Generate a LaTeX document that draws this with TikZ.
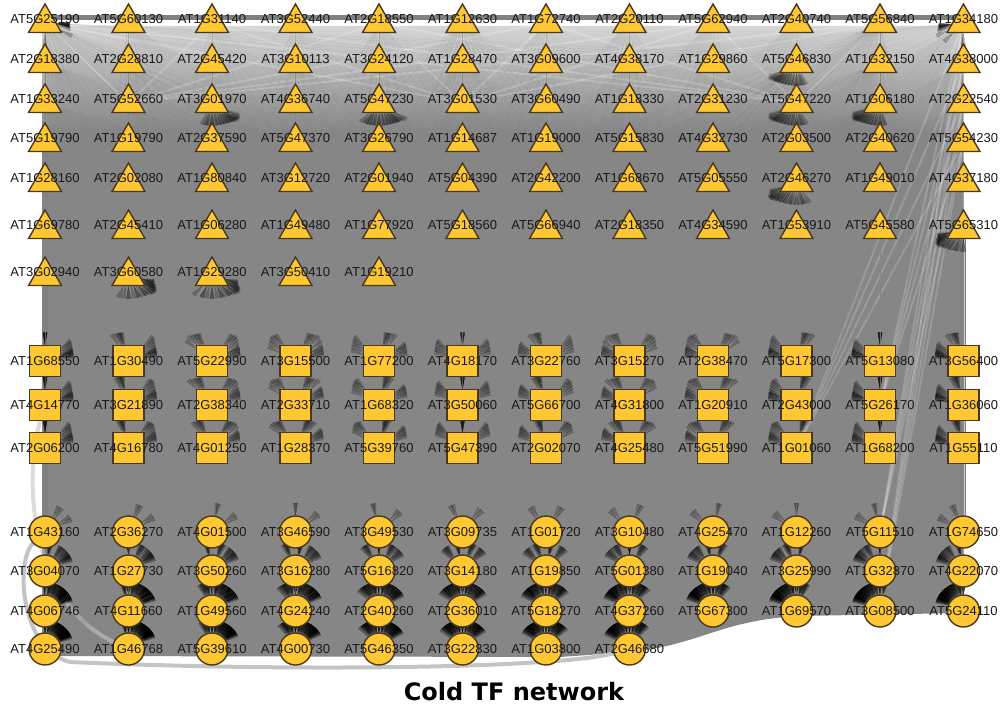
\documentclass[tikz,border=0pt]{standalone}
\usepackage{fontspec}
\setmainfont{Liberation Sans}
\newfontfamily\titlefont{DejaVu Sans}
\usepackage{tikz}
\usetikzlibrary{arrows.meta, shapes.geometric, fadings}
\pgfdeclarelayer{edges}
\pgfsetlayers{edges,main}
\definecolor{nodefill}{RGB}{255,200,48}
\definecolor{nodeline}{RGB}{72,56,30}
\definecolor{edgegray}{RGB}{134,134,134}
\definecolor{rimgray}{RGB}{128,128,128}
\definecolor{palegray}{RGB}{196,196,196}
\tikzfading[name=topfade, top color=transparent!30, bottom color=transparent!100]

\begin{document}
\begin{tikzpicture}[
    x=1pt, y=-1pt,
    gene/.style={
      draw=nodeline, fill=nodefill, line width=1.4pt,
      inner sep=0pt, outer sep=0pt
    },
    tfnode/.style={gene, regular polygon, regular polygon sides=3, minimum size=38pt},
    midnode/.style={gene, rectangle, minimum size=31pt},
    tgnode/.style={gene, circle, minimum size=32pt},
    genelab/.style={inner sep=0pt, font=\fontsize{13}{15}\selectfont, text=black!90},
    regedge/.style={
      draw=edgegray, opacity=0.22, line width=0.3pt,
      -{Triangle[length=13pt, width=4.5pt, color=black]}
    },
    rim/.style={draw=rimgray, line width=5pt},
    pale/.style={draw=palegray, line width=4pt},
    streak/.style={draw=white, opacity=0.2, line width=2pt},
  ]
    \useasboundingbox (0,0) rectangle (1004,709);

    % transcription factors
    \foreach \r/\yy/\names in {
        1/23/{AT5G25190,AT5G60130,AT1G31140,AT3G52440,AT2G18550,AT1G12630,AT1G72740,AT2G20110,AT5G62940,AT2G40740,AT5G56840,AT1G34180},
        2/63/{AT2G18380,AT2G28810,AT2G45420,AT3G10113,AT3G24120,AT1G28470,AT3G09600,AT4G38170,AT1G29860,AT5G46830,AT1G32150,AT4G38000},
        3/103/{AT1G33240,AT5G52660,AT3G01970,AT4G36740,AT5G47230,AT3G01530,AT3G60490,AT1G18330,AT2G31230,AT5G47220,AT1G06180,AT2G22540},
        4/142/{AT5G19790,AT1G19790,AT2G37590,AT5G47370,AT3G26790,AT1G14687,AT1G19000,AT5G15830,AT4G32730,AT2G03500,AT2G40620,AT5G54230},
        5/182/{AT1G28160,AT2G02080,AT1G80840,AT3G12720,AT2G01940,AT5G04390,AT2G42200,AT1G68670,AT5G05550,AT2G46270,AT1G49010,AT4G37180},
        6/229/{AT1G69780,AT2G45410,AT1G06280,AT1G49480,AT1G77920,AT5G18560,AT5G66940,AT2G18350,AT4G34590,AT1G53910,AT5G45580,AT5G65310},
        7/276/{AT3G02940,AT3G60580,AT1G29280,AT3G50410,AT1G19210}}{
      \foreach \lab [count=\c from 0] in \names
        \node[tfnode, label={[genelab, yshift=4pt]center:\lab}] (tf-\r-\c) at ({45+83.5*\c},\yy) {};
    }

    % middle genes
    \foreach \r/\yy/\names in {
        1/361/{AT1G68550,AT1G30490,AT5G22990,AT3G15500,AT1G77200,AT4G18170,AT3G22760,AT3G15270,AT2G38470,AT5G17300,AT5G13080,AT3G56400},
        2/405/{AT4G14770,AT3G21890,AT2G38340,AT2G33710,AT1G68320,AT3G50060,AT5G66700,AT4G31800,AT1G20910,AT2G43000,AT5G26170,AT1G36060},
        3/448/{AT2G06200,AT4G16780,AT4G01250,AT1G28370,AT5G39760,AT5G47390,AT2G02070,AT4G25480,AT5G51990,AT1G01060,AT1G68200,AT1G55110}}{
      \foreach \lab [count=\c from 0] in \names
        \node[midnode, label={[genelab]center:\lab}] (mid-\r-\c) at ({45+83.5*\c},\yy) {};
    }

    % target genes
    \foreach \r/\yy/\names in {
        1/532/{AT1G43160,AT2G36270,AT4G01500,AT3G46590,AT3G49530,AT3G09735,AT1G01720,AT3G10480,AT4G25470,AT1G12260,AT5G11510,AT1G74650},
        2/571/{AT3G04070,AT1G27730,AT3G50260,AT3G16280,AT5G16820,AT3G14180,AT1G19850,AT5G01380,AT1G19040,AT3G25990,AT1G32870,AT4G22070},
        3/611/{AT4G06746,AT4G11660,AT1G49560,AT4G24240,AT2G40260,AT2G36010,AT5G18270,AT4G37260,AT5G67300,AT1G69570,AT3G08500,AT5G24110},
        4/649/{AT4G25490,AT1G46768,AT5G39610,AT4G00730,AT5G46350,AT3G22830,AT1G03800,AT2G46680}}{
      \foreach \lab [count=\c from 0] in \names
        \node[tgnode, label={[genelab]center:\lab}] (tg-\r-\c) at ({45+83.5*\c},\yy) {};
    }

    \node[font=\titlefont\bfseries\fontsize{24}{28}\selectfont] (title) at (514,692) {Cold TF network};

    \begin{pgfonlayer}{edges}
      % the bulk of the edges
      \fill[edgegray] (42,26) -- (963,26) -- (963,613) -- (800,616)
        .. controls (720,620) and (700,645) .. (630,652) -- (560,657) -- (60,656)
        .. controls (46,656) and (42,650) .. (42,636) -- cycle;
      \fill[white, path fading=topfade] (42,20) rectangle (963,135);

      \draw[rim] ([yshift=5pt]tf-1-0.center) -- ([yshift=5pt]tf-1-11.center);
      \draw[rim] (tf-7-0) -- (tg-1-0);
      \draw[rim] (tf-6-11) -- (tg-1-11);
      \draw[pale] (tg-1-0) .. controls (15,560) and (20,650) .. (70,662)
        .. controls (300,672) and (560,668) .. (tg-4-7);
      \draw[pale, opacity=0.6] (mid-2-0) .. controls (25,470) and (25,600) .. (tg-4-1);

      % light streaks
      \foreach \c in {0,2,...,10}
        \foreach \d in {1,5,9}
          \draw[streak] (tf-1-\c) -- (tf-3-\d);
      \foreach \s in {tf-1-11,tf-2-11,tf-3-11,tf-4-11}
        \foreach \t in {tg-1-10,tg-2-11,tg-3-10,mid-3-9,mid-2-10}
          \draw[streak] (\s) -- (\t);

      % regulation edges
      \foreach \r/\n in {1/11,2/11,3/11,4/11,5/11,6/11,7/4}
        \foreach \c in {0,...,\n}{
          \foreach \k in {0,...,11}
            \draw[regedge] (tf-\r-\c) -- (tg-3-\k);
          \foreach \k in {0,...,7}
            \draw[regedge] (tf-\r-\c) -- (tg-4-\k);
        }
      \foreach \r in {1,...,6}
        \foreach \c in {1,4,7,10}
          \foreach \k in {0,...,11}
            \draw[regedge] (tf-\r-\c) -- (tg-2-\k);
      \foreach \r in {2,5}
        \foreach \c in {3,9}
          \foreach \k in {0,...,11}
            \draw[regedge] (tf-\r-\c) -- (tg-1-\k);
      \foreach \r in {1,...,6}
        \foreach \c in {0,5,10}
          \foreach \m in {1,2,3}
            \foreach \k in {0,...,11}
              \draw[regedge] (tf-\r-\c) -- (mid-\m-\k);
      \foreach \t in {tf-3-2,tf-3-4,tf-7-1,tf-7-2,tf-5-9,tf-3-9,tf-2-9,tf-6-11,tf-3-10}
        \foreach \k in {0,...,11}{
          \draw[regedge] (tg-3-\k) -- (\t);
          \draw[regedge] (mid-3-\k) -- (\t);
        }
      \foreach \k in {0,...,11}{
        \draw[regedge] (tf-2-\k) -- (tf-1-0);
        \draw[regedge] (tf-3-\k) -- (tf-1-11);
      }
    \end{pgfonlayer}
\end{tikzpicture}
\end{document}
